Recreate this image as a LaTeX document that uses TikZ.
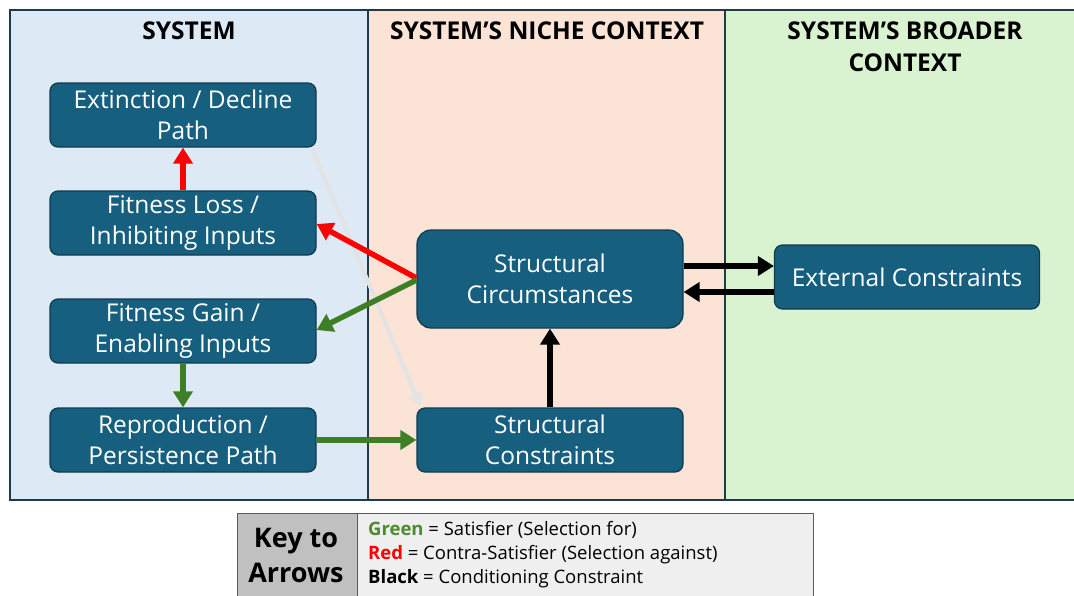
\documentclass[tikz,border=0pt]{standalone}
\usepackage{fontspec}
\setmainfont{Open Sans}
\usetikzlibrary{arrows.meta}
\definecolor{sysbg}{HTML}{DDEAF6}
\definecolor{nichebg}{HTML}{FBE3D6}
\definecolor{broadbg}{HTML}{D9F2D0}
\definecolor{boxfill}{HTML}{175F7F}
\definecolor{boxline}{HTML}{0F3B4F}
\definecolor{framecol}{HTML}{1F3A48}
\definecolor{satgreen}{HTML}{3E7F25}
\definecolor{keygreen}{HTML}{4E8A2E}
\definecolor{contrared}{HTML}{FF0000}
\definecolor{ghost}{HTML}{E3E3E3}
\definecolor{keydark}{HTML}{C0C0C0}
\definecolor{keylight}{HTML}{EFEFEF}
\definecolor{keyline}{HTML}{5A5A5A}
\tikzset{
  procbox/.style={rectangle, rounded corners=8pt, fill=boxfill, draw=boxline,
    line width=1.2pt, text=white, align=center, inner sep=0pt,
    minimum width=266pt, minimum height=64pt,
    font=\fontsize{24.5}{31}\selectfont},
  header/.style={align=center, font=\bfseries\fontsize{24.5}{32}\selectfont},
  flow/.style={line width=5.5pt, -{Triangle[length=16pt,width=19pt]}},
  redflow/.style={flow, draw=contrared, fill=contrared},
  greenflow/.style={flow, draw=satgreen, fill=satgreen},
  blackflow/.style={flow, draw=black, fill=black},
  ghostflow/.style={line width=4pt, draw=ghost, -{Triangle[length=13pt,width=15pt]}},
  keytext/.style={anchor=west, inner sep=0pt, font=\fontsize{18.5}{20}\selectfont}
}
\begin{document}
\begin{tikzpicture}[x=1pt,y=-1pt]
\useasboundingbox (0,0) rectangle (1074,595);
\clip (0,0) rectangle (1074,595);

% column backgrounds
\fill[sysbg] (10,10) rectangle (368,500);
\fill[nichebg] (368,10) rectangle (725,500);
\fill[broadbg] (725,10) rectangle (1080,500);
\draw[framecol, line width=1.5pt] (368,10) -- (368,500) (725,10) -- (725,500);
\draw[framecol, line width=2pt] (10,10) rectangle (1080,500);

% column headings
\node[header] (hsys) at (189,31) {SYSTEM};
\node[header] (hniche) at (547,31) {SYSTEM’S NICHE CONTEXT};
\node[header] (hbroad) at (905,47) {SYSTEM’S BROADER\\CONTEXT};

% system boxes
\node[procbox] (ext) at (183,115) {Extinction / Decline\\Path};
\node[procbox] (loss) at (183,223) {Fitness Loss /\\Inhibiting Inputs};
\node[procbox] (gain) at (183,331) {Fitness Gain /\\Enabling Inputs};
\node[procbox] (repro) at (183,440) {Reproduction /\\Persistence Path};

% niche boxes
\node[procbox, rounded corners=14pt, minimum height=98pt] (circ) at (550,279) {Structural\\Circumstances};
\node[procbox] (cons) at (550,440) {Structural\\Constraints};

% broader context
\node[procbox, minimum width=265pt] (extc) at (907,277) {External Constraints};

% connectors (y axis points down, so a positive yshift moves up)
\coordinate (circW1) at ([yshift=1pt]circ.west);
\coordinate (circW2) at ([yshift=-1pt]circ.west);
\draw[ghostflow] ([xshift=-4pt,yshift=-2pt]ext.south east) -- ([xshift=4pt,yshift=1pt]cons.north west);
\draw[redflow] (loss.north) -- (ext.south);
\draw[redflow] (circW1) -- ([yshift=-1pt]loss.east);
\draw[greenflow] (circW2) -- ([yshift=1pt]gain.east);
\draw[greenflow] (gain.south) -- (repro.north);
\draw[greenflow] (repro.east) -- (cons.west);
\draw[blackflow] (cons.north) -- (circ.south);
\draw[blackflow] ([yshift=13pt]circ.east) -- ([yshift=11pt]extc.west);
\draw[blackflow] ([yshift=-15pt]extc.west) -- ([yshift=-13pt]circ.east);

% key to arrows
\fill[keydark] (237,513) rectangle (357,600);
\fill[keylight] (357,513) rectangle (813,600);
\draw[keyline, line width=1pt] (237,513) rectangle (813,600) (357,513) -- (357,600);
\node[align=center, font=\bfseries\fontsize{27}{35}\selectfont] (keytitle) at (296,555) {Key to\\Arrows};
\node[keytext] (kgreen) at (368,530) {\textcolor{keygreen}{\bfseries Green} = Satisfier (Selection for)};
\node[keytext] (kred) at (368,555) {\textcolor{contrared}{\bfseries Red} = Contra-Satisfier (Selection against)};
\node[keytext] (kblack) at (368,579) {\bfseries Black\mdseries{} = Conditioning Constraint};
\end{tikzpicture}
\end{document}
